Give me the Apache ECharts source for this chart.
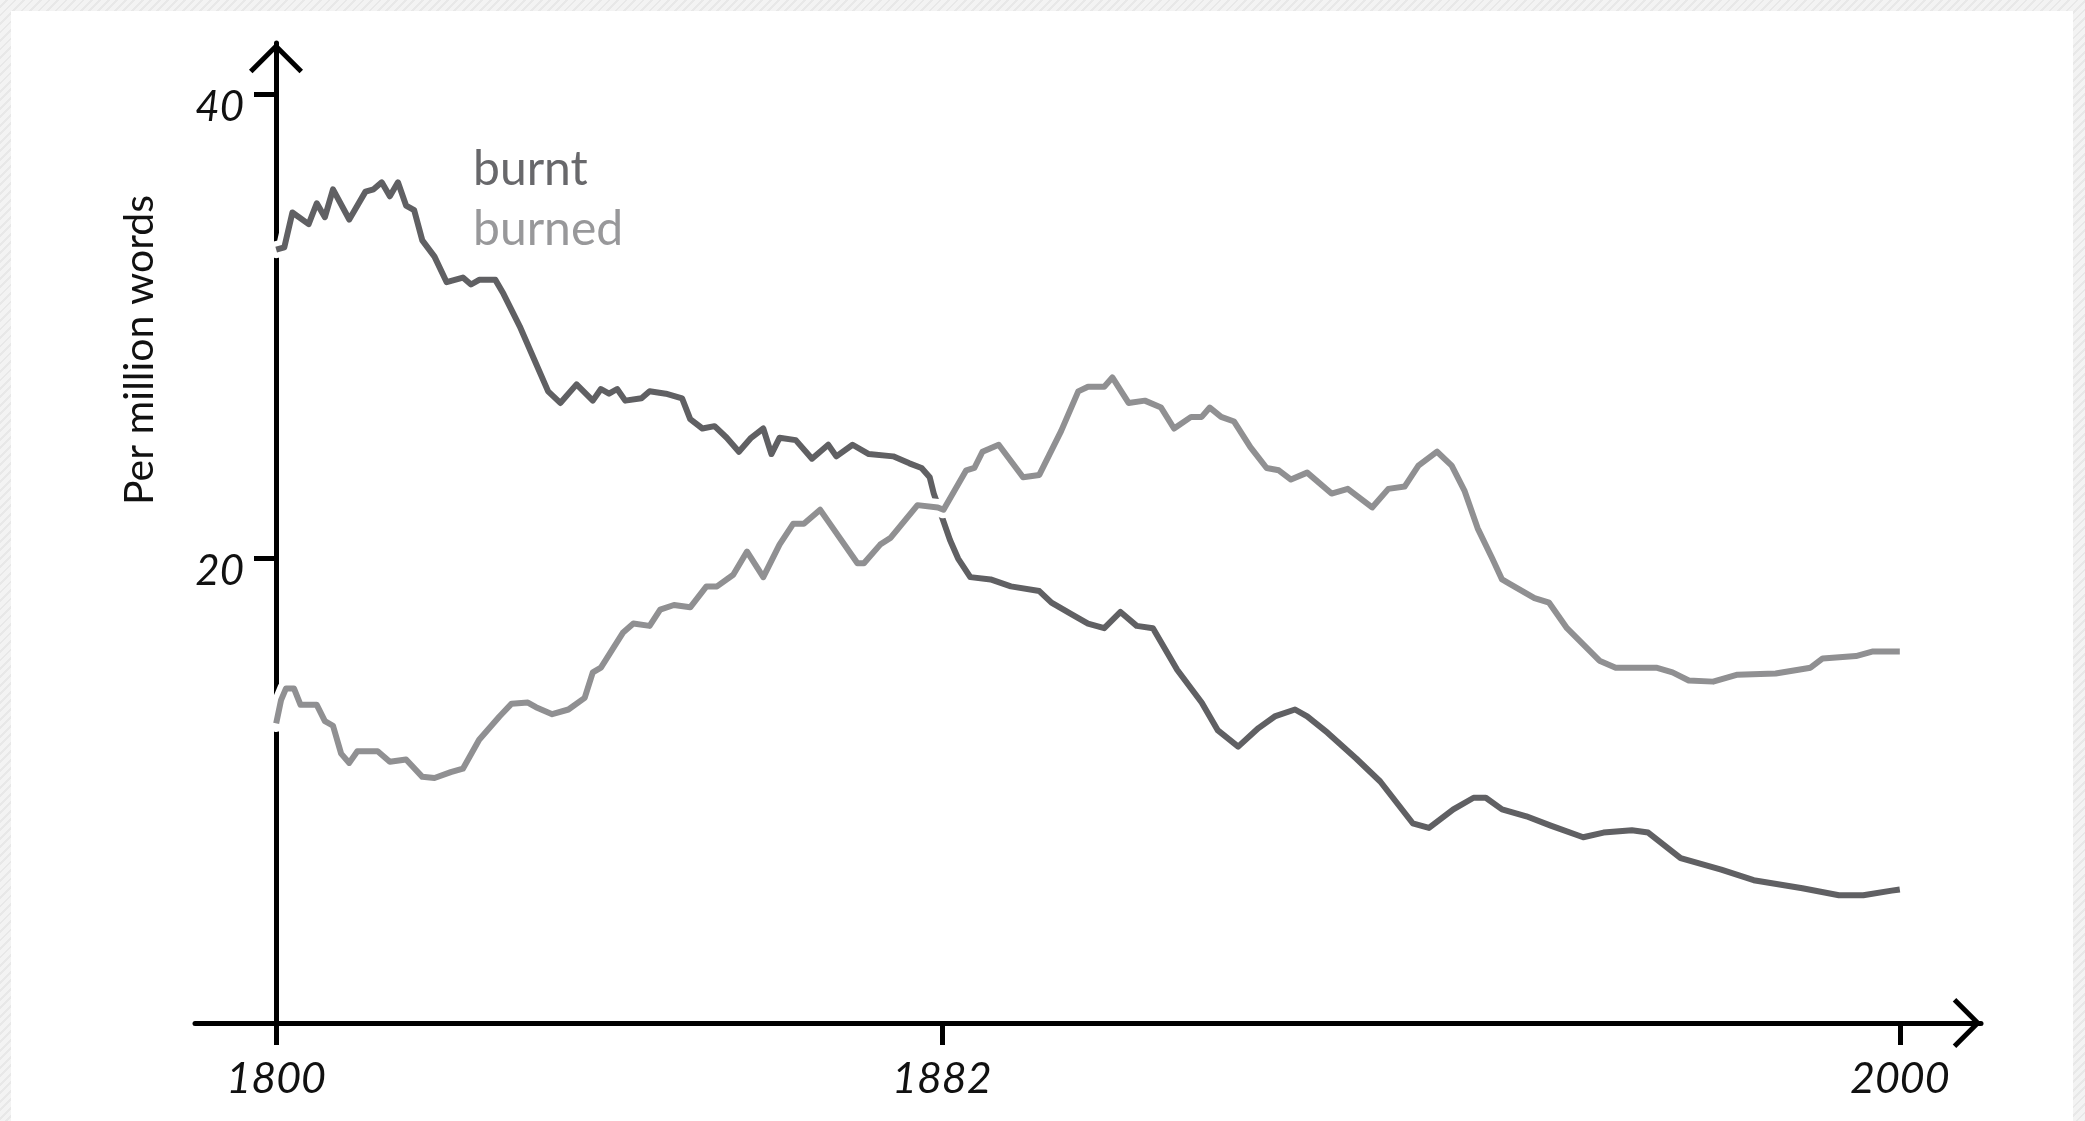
<!DOCTYPE html>
<html>
<head>
<meta charset="utf-8">
<script src="https://cdn.jsdelivr.net/npm/echarts@6/dist/echarts.min.js"></script>
<style>
  html, body { margin: 0; padding: 0; }
  body {
    width: 2085px; height: 1121px; position: relative; overflow: hidden;
    background: repeating-linear-gradient(135deg, #f3f3f3 0 4px, #e8e8e8 4px 6px);
  }
  .panel { position: absolute; left: 11px; top: 11px; right: 12px; bottom: 0; background: #fff; }
  #chart { position: absolute; left: 0; top: 0; width: 2085px; height: 1121px; }
</style>
</head>
<body>
<div class="panel"></div>
<div id="chart"></div>
<script>
// values (per million words)
const burntYears = [1800, 1801, 1802, 1804, 1805, 1806, 1807, 1809, 1811, 1812, 1813, 1814, 1815, 1816, 1817, 1818, 1819.5, 1821, 1823, 1824, 1825, 1827, 1828, 1830, 1832, 1833.5, 1835, 1837, 1839, 1840, 1841, 1842, 1843, 1845, 1846, 1848, 1850, 1851, 1852.5, 1854, 1855.5, 1857, 1858.5, 1860, 1861, 1862, 1864, 1866, 1868, 1869, 1871, 1873, 1876, 1878, 1879.5, 1880.5, 1881, 1882, 1883, 1884, 1885.5, 1888, 1890.5, 1894, 1895.5, 1898, 1900, 1902, 1904, 1906, 1908, 1911, 1914, 1916, 1918.5, 1921, 1923, 1925.5, 1927, 1929.5, 1933, 1936, 1940, 1942, 1945, 1947.5, 1949, 1951, 1954, 1957, 1961, 1963.5, 1967, 1969, 1973, 1978, 1982, 1988, 1992.5, 1995.5, 1999, 2000];
const burntValues = [33.3, 33.4, 34.9, 34.4, 35.3, 34.7, 35.9, 34.6, 35.8, 35.9, 36.2, 35.6, 36.2, 35.2, 35.0, 33.7, 33.0, 31.9, 32.1, 31.8, 32.0, 32.0, 31.4, 30.0, 28.4, 27.2, 26.7, 27.5, 26.8, 27.3, 27.1, 27.3, 26.8, 26.9, 27.2, 27.1, 26.9, 26.0, 25.6, 25.7, 25.2, 24.6, 25.2, 25.6, 24.5, 25.2, 25.1, 24.3, 24.9, 24.4, 24.9, 24.5, 24.4, 24.1, 23.9, 23.5, 22.8, 21.8, 20.8, 20.0, 19.2, 19.1, 18.8, 18.6, 18.1, 17.6, 17.2, 17.0, 17.7, 17.1, 17.0, 15.2, 13.8, 12.6, 11.9, 12.7, 13.2, 13.5, 13.2, 12.5, 11.4, 10.4, 8.6, 8.4, 9.2, 9.7, 9.7, 9.2, 8.9, 8.5, 8.0, 8.2, 8.3, 8.2, 7.1, 6.6, 6.15, 5.8, 5.5, 5.5, 5.7, 5.75];

const burnedYears = [1800, 1800.6, 1801.2, 1802.2, 1803, 1805, 1806, 1807, 1808, 1809, 1810, 1812.5, 1814, 1816, 1818, 1819.5, 1821.5, 1823, 1825, 1827.5, 1829, 1831, 1832, 1834, 1836, 1838, 1839, 1840, 1842.7, 1844, 1846, 1847.3, 1849, 1851, 1853, 1854.3, 1856.3, 1858, 1860, 1862, 1863.7, 1865, 1867, 1868, 1871.6, 1872.4, 1874.4, 1875.7, 1879, 1881.5, 1882.2, 1885, 1886, 1887, 1889, 1892, 1894, 1896.7, 1898.8, 1900, 1902, 1903, 1905, 1907, 1909, 1910.6, 1912.7, 1914, 1915, 1916.4, 1918, 1920, 1922, 1923.5, 1925, 1927, 1930, 1932, 1935, 1937, 1939, 1940.7, 1943, 1944.8, 1946.4, 1948, 1949.8, 1951, 1952, 1955, 1956.8, 1959, 1961, 1963, 1965, 1970, 1972, 1974, 1977, 1980, 1984.7, 1989, 1990.5, 1994.6, 1996.7, 2000];
const burnedValues = [12.9, 13.9, 14.4, 14.4, 13.7, 13.7, 13.0, 12.8, 11.6, 11.2, 11.7, 11.7, 11.25, 11.35, 10.6, 10.55, 10.8, 10.95, 12.2, 13.2, 13.75, 13.8, 13.6, 13.3, 13.5, 14.0, 15.1, 15.3, 16.8, 17.2, 17.1, 17.8, 18.0, 17.9, 18.8, 18.8, 19.3, 20.3, 19.2, 20.6, 21.5, 21.5, 22.1, 21.6, 19.8, 19.8, 20.6, 20.9, 22.3, 22.2, 22.1, 23.8, 23.9, 24.6, 24.9, 23.5, 23.6, 25.5, 27.2, 27.4, 27.4, 27.8, 26.7, 26.8, 26.5, 25.6, 26.1, 26.1, 26.5, 26.1, 25.9, 24.8, 23.9, 23.8, 23.4, 23.7, 22.8, 23.0, 22.2, 23.0, 23.1, 24.0, 24.6, 24.0, 22.9, 21.3, 20.0, 19.1, 18.9, 18.3, 18.1, 17.0, 16.3, 15.6, 15.3, 15.3, 15.1, 14.75, 14.7, 15.0, 15.05, 15.3, 15.7, 15.8, 16.0, 16.0];

const xTicks = [1800, 1882, 2000];
const yTicks = [20, 40];

const burntColor = '#606063';
const burnedColor = '#909092';

const toPairs = (xs, ys) => xs.map((x, i) => [x, ys[i]]);
const burntData = toPairs(burntYears, burntValues);
const burnedData = toPairs(burnedYears, burnedValues);

const chart = echarts.init(document.getElementById('chart'), null, {renderer: 'canvas'});

// white halo under a line, so it cuts the axis and the other line like a sketch
function halo(name, data) {
  return {
    name: name, type: 'line', data: data, showSymbol: false, silent: true,
    lineStyle: {color: '#fff', width: 17, cap: 'round', join: 'round'},
    emphasis: {disabled: true}, animation: false
  };
}
function line(name, data, color) {
  return {
    name: name, type: 'line', data: data, showSymbol: false,
    lineStyle: {color: color, width: 6, join: 'round'},
    itemStyle: {color: color},
    emphasis: {disabled: true}, animation: false
  };
}

chart.setOption({
  backgroundColor: 'transparent',
  animation: false,
  textStyle: {fontFamily: 'Lato'},
  grid: {left: 195, right: 104, top: 43, bottom: 98, outerBoundsMode: 'none'},
  legend: {
    orient: 'vertical', left: 463, top: 139,
    icon: 'none', itemWidth: 0, itemHeight: 10, itemGap: 9,
    textStyle: {fontSize: 48, lineHeight: 51, fontFamily: 'Lato'},
    data: [
      {name: 'burnt', textStyle: {color: '#68686b'}},
      {name: 'burned', textStyle: {color: '#98989a'}}
    ],
    selectedMode: false
  },
  xAxis: {
    type: 'value', min: 1790, max: 2010,
    splitLine: {show: false},
    axisLine: {
      onZero: true,
      lineStyle: {color: '#000', width: 5},
      symbol: ['none', 'path://M25,0 L50,25 L46.5,28.5 L25,7 L3.5,28.5 L0,25 Z'],
      symbolSize: [50, 28.5],
      symbolOffset: [0, -14]
    },
    axisTick: {show: true, length: 22, lineStyle: {color: '#000', width: 5}, customValues: xTicks},
    axisLabel: {
      customValues: xTicks, margin: 35, color: '#111',
      fontSize: 43, fontStyle: 'italic', fontFamily: 'Lato',
      formatter: v => String(v)
    }
  },
  yAxis: {
    type: 'value', min: 0, max: 42.2, offset: -81,
    splitLine: {show: false},
    axisLine: {
      show: true, onZero: false,
      lineStyle: {color: '#000', width: 5},
      symbol: ['none', 'path://M27,0 L54,27 L50.5,30.5 L27,7 L3.5,30.5 L0,27 Z'],
      symbolSize: [54, 30.5],
      symbolOffset: [0, -15]
    },
    axisTick: {show: true, length: 22, lineStyle: {color: '#000', width: 5}, customValues: yTicks},
    axisLabel: {
      customValues: yTicks, margin: 32, color: '#111',
      fontSize: 42, fontStyle: 'italic', fontFamily: 'Lato',
      verticalAlign: 'top', lineHeight: 26
    }
  },
  graphic: [{
    type: 'text', x: 140, y: 350, rotation: Math.PI / 2,
    style: {
      text: 'Per million words', fontSize: 41, fontFamily: 'Lato', fill: '#111',
      align: 'center', verticalAlign: 'middle',
      textAlign: 'center', textVerticalAlign: 'middle'
    }
  }],
  series: [
    halo('burnt-halo', burntData),
    line('burnt', burntData, burntColor),
    halo('burned-halo', burnedData),
    line('burned', burnedData, burnedColor)
  ]
});
</script>
</body>
</html>
